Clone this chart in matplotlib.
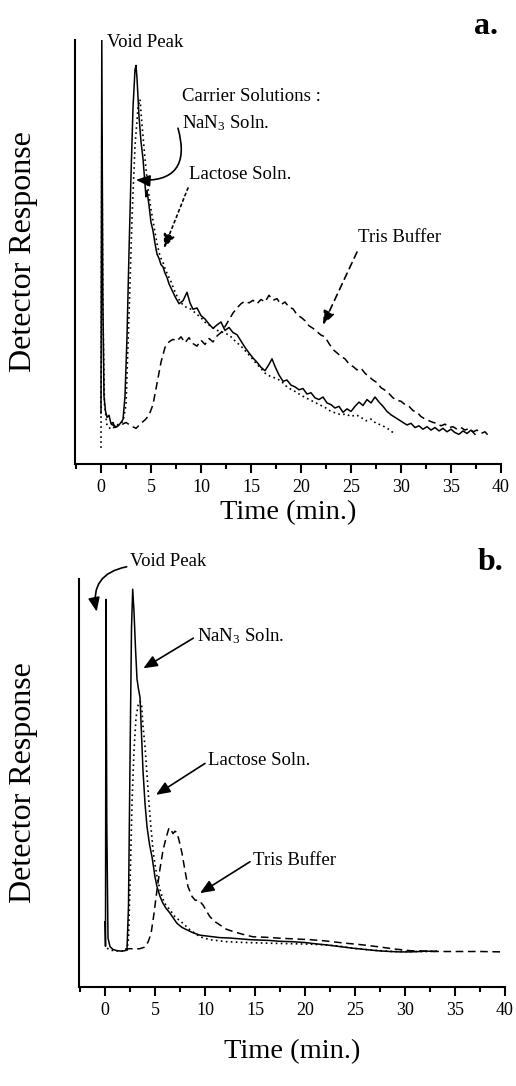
import matplotlib
matplotlib.use("Agg")
import matplotlib.pyplot as plt
from matplotlib.ticker import MultipleLocator

plt.rcParams['font.family'] = ['Liberation Serif', 'DejaVu Serif']
plt.rcParams['mathtext.fontset'] = 'custom'
plt.rcParams['mathtext.rm'] = 'Liberation Serif'
plt.rcParams['mathtext.it'] = 'Liberation Serif:italic'

# ---- panel a: detector response vs time (min.) ----
a_nan3_t = [0.0, 0.08, 0.18, 0.3, 0.45, 0.6, 0.8, 1.0, 1.2, 1.4, 1.6, 1.8, 2.0, 2.2,
            2.4, 2.6, 2.8, 3.0, 3.2, 3.4, 3.5, 3.6, 3.8, 4.0, 4.2, 4.4, 4.5, 4.6, 4.8,
            5.0, 5.2, 5.4, 5.6, 5.8, 6.0, 6.2, 6.4, 6.6, 6.8, 7.0, 7.4, 7.8, 8.2, 8.6,
            8.9, 9.2, 9.6, 10.0, 10.4, 10.8, 11.2, 11.6, 12.0, 12.4, 12.8, 13.2, 13.6,
            14.0, 14.4, 14.8, 15.2, 15.6, 16.0, 16.4, 16.8, 17.1, 17.4, 17.8, 18.2,
            18.6, 19.0, 19.4, 19.8, 20.2, 20.6, 21.0, 21.4, 21.8, 22.2, 22.6, 23.0,
            23.4, 23.8, 24.2, 24.6, 25.0, 25.4, 25.8, 26.2, 26.6, 27.0, 27.4, 27.8,
            28.2, 28.6, 29.0, 29.4, 29.8, 30.2, 30.6, 31.0, 31.4, 31.8, 32.2, 32.6,
            33.0, 33.4, 33.8, 34.2, 34.6, 35.0, 35.4, 35.8, 36.2, 36.6, 37.0, 37.4]
a_nan3_y = [12, 100, 40, 16, 12.5, 11, 11.5, 9.5, 9.8, 8.6, 8.8, 9.2, 9.8, 10.5,
            16, 30, 50, 68, 84, 93, 94, 91, 82, 76, 72, 66, 63, 64.5, 61,
            57, 55, 52, 49.5, 48.5, 47, 46.5, 45, 44, 42.5, 41.5, 39.5, 37.8, 38.5, 40.5,
            38, 36.5, 36.8, 35, 34.2, 33, 32, 32.8, 33.5, 31.5, 32.2, 31, 30.5,
            29, 27.5, 26.2, 25, 24, 22.8, 22, 23.5, 24.8, 23, 21, 19.5,
            19.8, 18.6, 18.2, 17.5, 17.8, 16.5, 16.8, 15.6, 15.2, 15.8, 14.4, 14,
            13.2, 13.6, 12.2, 13, 12.4, 13.6, 14.6, 13.8, 15.2, 14.4, 15.8, 14.6,
            13.6, 12.4, 11.6, 11.0, 10.4, 9.8, 9.2, 9.6, 8.6, 9.0, 8.2, 8.8,
            8.0, 8.6, 7.8, 8.4, 7.6, 8.2, 7.4, 7.0, 7.8, 7.2, 8.0, 7.0]

a_lac_t = [0.0, 0.08, 0.2, 0.35, 0.6, 1.0, 1.4, 1.8, 2.2, 2.5, 2.8, 3.1, 3.4, 3.7, 3.9,
           4.1, 4.4, 4.7, 5.0, 5.3, 5.6, 5.9, 6.2, 6.5, 7.0, 7.5, 8.0, 8.5, 9.0, 9.5,
           10.0, 10.5, 11.0, 11.5, 12.0, 12.5, 13.0, 13.5, 14.0, 14.5, 15.0, 15.5,
           16.0, 16.5, 17.0, 17.5, 18.0, 18.5, 19.0, 19.5, 20.0, 20.5, 21.0, 21.5,
           22.0, 22.5, 23.0, 23.5, 24.0, 24.5, 25.0, 25.5, 26.0, 26.5, 27.0, 27.5,
           28.0, 28.5, 29.0, 29.3]
a_lac_y = [3.8, 78, 35, 14, 9, 8.2, 8.8, 9.5, 10, 14, 35, 58, 75, 84, 86,
           80, 72, 65, 60, 56, 52, 49, 47.5, 45.5, 43, 40, 38, 37, 36.5, 35.5,
           34.5, 33.2, 32.5, 31.6, 31.2, 30.8, 30.0, 28.8, 27.8, 26.5, 25.2, 23.8,
           22.5, 21.2, 20.6, 20.2, 19.6, 18.4, 17.6, 17.0, 16.2, 15.6, 15.0, 14.4,
           13.8, 13.2, 12.4, 12.0, 11.6, 11.8, 11.2, 11.6, 11.0, 10.2, 10.6, 9.6,
           9.2, 8.6, 7.8, 7.2]

a_tris_t = [1.0, 1.5, 2.0, 2.5, 3.0, 3.5, 4.0, 4.4, 4.8, 5.2, 5.6, 6.0, 6.4, 6.8, 7.2,
            7.6, 8.0, 8.4, 8.8, 9.2, 9.6, 10.0, 10.4, 10.8, 11.2, 11.6, 12.0, 12.4,
            12.8, 13.2, 13.6, 14.0, 14.4, 14.8, 15.2, 15.6, 16.0, 16.4, 16.8, 17.2,
            17.6, 18.0, 18.4, 18.8, 19.2, 19.6, 20.0, 20.4, 20.8, 21.2, 21.6, 22.0,
            22.4, 22.8, 23.2, 23.6, 24.0, 24.4, 24.8, 25.2, 25.6, 26.0, 26.4, 26.8,
            27.2, 27.6, 28.0, 28.4, 28.8, 29.2, 29.6, 30.0, 30.4, 30.8, 31.2, 31.6,
            32.0, 32.4, 32.8, 33.2, 33.6, 34.0, 34.4, 34.8, 35.2, 35.6, 36.0, 36.4,
            36.8, 37.2, 37.6, 38.0, 38.4, 38.7]
a_tris_y = [9.4, 8.8, 9.2, 9.8, 9.0, 8.4, 9.6, 10.4, 11.5, 14, 19, 24, 27.5, 28.8, 29.4,
            29.0, 30.0, 28.6, 29.8, 28.4, 27.8, 29.2, 28.2, 29.6, 28.8, 30.2, 31.0, 32.4,
            34.0, 35.6, 36.8, 37.8, 38.4, 38.0, 38.6, 37.8, 38.8, 38.2, 39.8, 38.6,
            39.0, 37.6, 38.2, 37.0, 36.6, 35.2, 34.6, 33.8, 32.6, 32.0, 31.2, 30.4,
            30.0, 28.4, 27.0, 26.2, 25.4, 24.8, 23.6, 23.0, 22.2, 22.6, 21.4, 20.6,
            19.8, 19.2, 18.0, 17.4, 16.6, 15.6, 15.0, 14.8, 14.0, 13.6, 12.6, 12.2,
            11.2, 10.6, 10.2, 9.8, 9.6, 9.0, 9.4, 8.6, 8.8, 8.2, 8.6, 8.0,
            8.4, 7.6, 8.0, 7.2, 7.6, 6.8]

# ---- panel b ----
b_nan3_t = [0.0, 0.05, 0.1, 0.18, 0.3, 0.5, 0.8, 1.2, 1.6, 2.0, 2.2, 2.35, 2.5, 2.65,
            2.77, 2.9, 3.05, 3.2, 3.35, 3.5, 3.65, 3.8, 4.0, 4.2, 4.45, 4.7, 5.0, 5.2,
            5.5, 5.8, 6.1, 6.5, 6.8, 7.2, 7.7, 8.2, 8.8, 9.5, 10.5, 11.5, 12.5, 13.5,
            14.5, 15.5, 16.5, 17.5, 18.8, 20.0, 21.0, 22.2, 23.5, 24.8, 26.0, 27.2,
            28.5, 29.5, 30.5, 31.5, 32.2, 33.0]
b_nan3_y = [16, 10, 95, 40, 12, 9.9, 9.2, 8.9, 8.8, 8.9, 9.2, 20, 55, 88,
            97.5, 92, 83, 75.5, 73, 71, 62, 53, 45, 39.3, 35, 31.9, 27, 24.6,
            22.2, 20.5, 19.3, 18.1, 17.0, 15.6, 14.6, 14.0, 13.3, 12.7, 12.4, 12.1, 12.0, 11.8,
            11.6, 11.5, 11.4, 11.2, 11.1, 10.9, 10.6, 10.3, 9.9, 9.5, 9.2, 8.9,
            8.7, 8.6, 8.6, 8.7, 8.8, 8.7]

b_lac_t = [0.2, 0.6, 1.0, 1.5, 2.0, 2.2, 2.35, 2.5, 2.7, 2.9, 3.1, 3.3, 3.5, 3.65, 3.8,
           4.0, 4.2, 4.4, 4.6, 4.8, 5.0, 5.25, 5.5, 5.8, 6.1, 6.5, 7.0, 7.8, 8.5, 9.5,
           10.5, 12.2, 14.0, 15.5, 17.0, 18.8, 20.5, 22.2, 23.5, 24.8, 26.0, 27.5,
           28.8, 30.5, 32.2, 33.3]
b_lac_y = [9.5, 9.0, 8.9, 8.8, 8.9, 9.0, 12, 25, 45, 58, 66, 69, 70, 69.5, 64,
           59, 52, 45, 39, 33.6, 30, 26.5, 23.8, 21.5, 20, 18.9, 17.2, 15.6, 14.0, 12.3,
           11.6, 11.1, 10.9, 10.8, 10.7, 10.6, 10.5, 10.3, 10.0, 9.5, 9.2, 8.9,
           8.7, 8.7, 8.7, 8.8]

b_tris_t = [2.0, 2.5, 3.0, 3.5, 4.0, 4.3, 4.6, 4.9, 5.2, 5.5, 5.8, 6.1, 6.4, 6.6, 6.8,
            7.0, 7.2, 7.4, 7.7, 8.0, 8.3, 8.7, 9.0, 9.4, 9.8, 10.2, 10.5, 11.0, 11.5,
            12.1, 12.8, 13.8, 14.8, 16.0, 17.2, 18.8, 20.5, 22.0, 23.8, 25.5, 27.2,
            29.0, 30.5, 32.0, 33.5, 35.5, 37.5, 39.8]
b_tris_y = [9.3, 9.4, 9.3, 9.4, 9.8, 11, 13, 18, 23.8, 29, 33.5, 36.5, 39, 38.5, 37.6,
            38.2, 37.8, 36, 32.8, 28.5, 24.6, 22.2, 21.3, 21.2, 20.1, 18.4, 17.2, 16.0, 15.2,
            14.2, 13.6, 12.9, 12.3, 12.2, 12.0, 11.8, 11.6, 11.3, 10.8, 10.4, 9.9,
            9.3, 8.9, 8.8, 8.7, 8.7, 8.7, 8.6]

tick_values = [0, 5, 10, 15, 20, 25, 30, 35, 40]

fig = plt.figure(figsize=(5.16, 10.86), dpi=100)
ax1 = fig.add_axes([75 / 516, 1 - 464 / 1086, 426 / 516, 424 / 1086])
ax2 = fig.add_axes([79 / 516, 1 - 987 / 1086, 426 / 516, 408 / 1086])

for ax, (nt, ny), (lt, ly), (tt, ty) in [
        (ax1, (a_nan3_t, a_nan3_y), (a_lac_t, a_lac_y), (a_tris_t, a_tris_y)),
        (ax2, (b_nan3_t, b_nan3_y), (b_lac_t, b_lac_y), (b_tris_t, b_tris_y))]:
    ax.plot(nt, ny, color='black', lw=1.1, ls='-')
    ax.plot(lt, ly, color='black', lw=1.2, ls=(0, (1, 2)))
    ax.plot(tt, ty, color='black', lw=1.1, ls=(0, (5, 3)))
    ax.set_xlim(-2.6, 40)
    ax.set_ylim(0, 100)
    ax.set_xticks(tick_values)
    ax.xaxis.set_minor_locator(MultipleLocator(2.5))
    ax.set_yticks([])
    for s in ['top', 'right']:
        ax.spines[s].set_visible(False)
    for s in ['left', 'bottom']:
        ax.spines[s].set_linewidth(1.5)
    ax.tick_params(axis='x', which='major', direction='out', length=6.5, width=1.5,
                   labelsize=13, pad=4)
    ax.tick_params(axis='x', which='minor', direction='out', length=3.3, width=1.5)
    ax.set_xlabel('Time (min.)', fontsize=20.5)
    ax.set_ylabel('Detector Response', fontsize=23)
    ax.yaxis.label.set_verticalalignment('center')
    ax.xaxis.label.set_verticalalignment('center')

ax1.xaxis.set_label_coords(0.5, (464 - 513) / 424)
ax1.yaxis.set_label_coords((24 - 75) / 426, 0.5)
ax2.xaxis.set_label_coords(0.5, (987 - 1052) / 408)
ax2.yaxis.set_label_coords((24 - 79) / 426, 0.5)

fs = 13.5
arrow = dict(arrowstyle='-|>,head_length=0.6,head_width=0.25', color='black',
             lw=1.2, shrinkA=0, shrinkB=0, mutation_scale=14)

# panel a labels
ax1.text(0.6, 99.5, 'Void Peak', fontsize=fs, va='center', ha='left', clip_on=False)
ax1.text(8.1, 86.6, 'Carrier Solutions :', fontsize=fs, va='center', ha='left')
ax1.text(8.1, 80.4, 'NaN$_3$ Soln.', fontsize=fs, va='center', ha='left')
ax1.annotate('', xy=(3.5, 67.0), xytext=(7.7, 79.2),
             arrowprops=dict(arrow, connectionstyle='arc3,rad=-0.7'))
ax1.text(8.8, 68.2, 'Lactose Soln.', fontsize=fs, va='center', ha='left')
ax1.annotate('', xy=(6.3, 50.9), xytext=(8.7, 65.1),
             arrowprops=dict(arrow, linestyle=(0, (1.5, 2))))
ax1.text(25.7, 53.5, 'Tris Buffer', fontsize=fs, va='center', ha='left')
ax1.annotate('', xy=(22.2, 32.8), xytext=(25.6, 50.0),
             arrowprops=dict(arrow, linestyle=(0, (4, 3))))
fig.text(498 / 516, 1 - 27 / 1086, 'a.', fontsize=23, fontweight='bold',
         ha='right', va='center')

# panel b labels
ax2.text(2.5, 104.4, 'Void Peak', fontsize=fs, va='center', ha='left', clip_on=False)
ax2.annotate('', xy=(-0.83, 92.0), xytext=(2.17, 103.0), annotation_clip=False,
             arrowprops=dict(arrow, connectionstyle='arc3,rad=0.5'))
ax2.text(9.17, 85.9, 'NaN$_3$ Soln.', fontsize=fs, va='center', ha='left')
ax2.annotate('', xy=(3.83, 78.1), xytext=(8.83, 85.5), arrowprops=arrow)
ax2.text(10.27, 55.6, 'Lactose Soln.', fontsize=fs, va='center', ha='left')
ax2.annotate('', xy=(5.1, 47.1), xytext=(10.0, 54.8), arrowprops=arrow)
ax2.text(14.8, 31.1, 'Tris Buffer', fontsize=fs, va='center', ha='left')
ax2.annotate('', xy=(9.5, 23.0), xytext=(14.5, 30.7), arrowprops=arrow)
fig.text(503 / 516, 1 - 563 / 1086, 'b.', fontsize=23, fontweight='bold',
         ha='right', va='center')

fig.savefig('out.png', dpi=100)
